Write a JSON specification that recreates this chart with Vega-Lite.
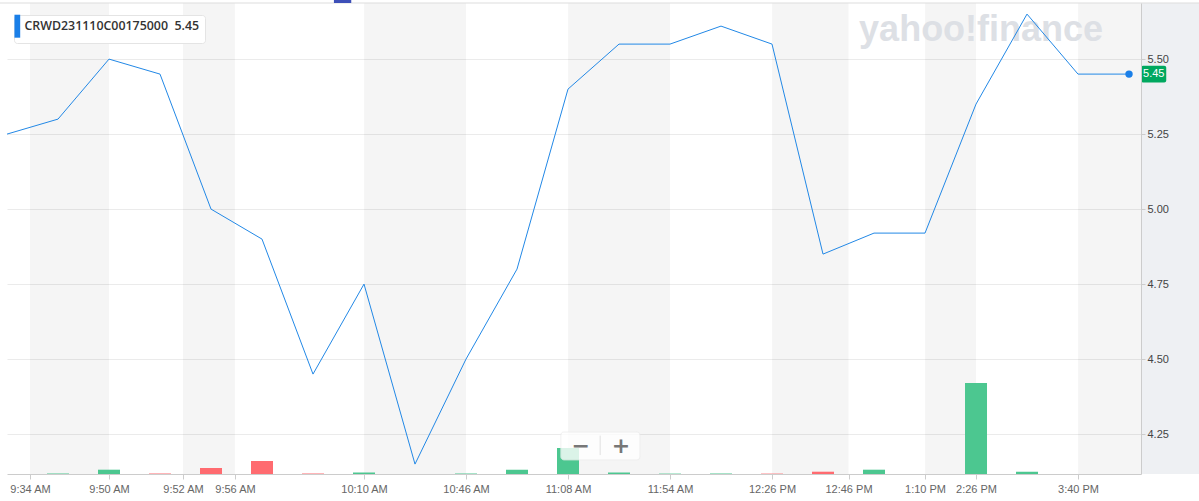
{
  "$schema": "https://vega.github.io/schema/vega-lite/v6.json",
  "autosize": {"type": "none"},
  "width": 1134,
  "height": 471,
  "padding": {"left": 7, "top": 3, "right": 58, "bottom": 27},
  "background": "#ffffff",
  "config": {
    "view": {"stroke": null},
    "scale": {"continuousPadding": 0},
    "axis": {"labelFont": "Liberation Sans", "labelFontSize": 11}
  },
  "datasets": {
    "prices": [
      {"idx": 0, "price": 5.25, "contract": "CRWD231110C00175000"},
      {"idx": 1, "price": 5.30, "contract": "CRWD231110C00175000"},
      {"idx": 2, "price": 5.50, "contract": "CRWD231110C00175000"},
      {"idx": 3, "price": 5.45, "contract": "CRWD231110C00175000"},
      {"idx": 4, "price": 5.00, "contract": "CRWD231110C00175000"},
      {"idx": 5, "price": 4.90, "contract": "CRWD231110C00175000"},
      {"idx": 6, "price": 4.45, "contract": "CRWD231110C00175000"},
      {"idx": 7, "price": 4.75, "contract": "CRWD231110C00175000"},
      {"idx": 8, "price": 4.15, "contract": "CRWD231110C00175000"},
      {"idx": 9, "price": 4.50, "contract": "CRWD231110C00175000"},
      {"idx": 10, "price": 4.80, "contract": "CRWD231110C00175000"},
      {"idx": 11, "price": 5.40, "contract": "CRWD231110C00175000"},
      {"idx": 12, "price": 5.55, "contract": "CRWD231110C00175000"},
      {"idx": 13, "price": 5.55, "contract": "CRWD231110C00175000"},
      {"idx": 14, "price": 5.61, "contract": "CRWD231110C00175000"},
      {"idx": 15, "price": 5.55, "contract": "CRWD231110C00175000"},
      {"idx": 16, "price": 4.85, "contract": "CRWD231110C00175000"},
      {"idx": 17, "price": 4.92, "contract": "CRWD231110C00175000"},
      {"idx": 18, "price": 4.92, "contract": "CRWD231110C00175000"},
      {"idx": 19, "price": 5.35, "contract": "CRWD231110C00175000"},
      {"idx": 20, "price": 5.65, "contract": "CRWD231110C00175000"},
      {"idx": 21, "price": 5.45, "contract": "CRWD231110C00175000"},
      {"idx": 22, "price": 5.45, "contract": "CRWD231110C00175000"}
    ],
    "volume": [
      {"idx": 1, "vol": 0.5, "dir": "up"},
      {"idx": 2, "vol": 4.3, "dir": "up"},
      {"idx": 3, "vol": 0.5, "dir": "down"},
      {"idx": 4, "vol": 6, "dir": "down"},
      {"idx": 5, "vol": 13, "dir": "down"},
      {"idx": 6, "vol": 0.5, "dir": "down"},
      {"idx": 7, "vol": 1.5, "dir": "up"},
      {"idx": 9, "vol": 0.5, "dir": "up"},
      {"idx": 10, "vol": 4.3, "dir": "up"},
      {"idx": 11, "vol": 26, "dir": "up"},
      {"idx": 12, "vol": 1.5, "dir": "up"},
      {"idx": 13, "vol": 0.4, "dir": "up"},
      {"idx": 14, "vol": 0.5, "dir": "up"},
      {"idx": 15, "vol": 0.4, "dir": "down"},
      {"idx": 16, "vol": 2.3, "dir": "down"},
      {"idx": 17, "vol": 4.3, "dir": "up"},
      {"idx": 19, "vol": 91, "dir": "up"},
      {"idx": 20, "vol": 2.3, "dir": "up"}
    ],
    "bands": [
      {"x0": 0.45, "x1": 2},
      {"x0": 3.45, "x1": 4.47},
      {"x0": 7, "x1": 9},
      {"x0": 11, "x1": 13},
      {"x0": 15, "x1": 16.5},
      {"x0": 18, "x1": 19},
      {"x0": 21, "x1": 22.235}
    ],
    "panel": [{"x0": 22.235, "x1": 23.4, "y0": 4.117, "y1": 5.687}],
    "watermark": [{"idx": 19.1, "price": 5.597, "text": "yahoo!finance"}],
    "badge": [{"x0": 22.235, "x1": 22.73, "xc": 22.485, "y0": 5.422, "y1": 5.478, "price": 5.45, "text": "5.45"}],
    "zoombox": [{"x0": 10.86, "x1": 12.41, "y0": 4.164, "y1": 4.257}],
    "zoomtext": [
      {"idx": 11.25, "price": 4.212, "text": "−"},
      {"idx": 12.04, "price": 4.212, "text": "+"}
    ],
    "zoomdiv": [{"idx": 11.63, "y0": 4.18, "y1": 4.245}],
    "topline": [{"x0": -0.14, "x1": 23.4, "price": 5.687}],
    "navmark": [{"x0": 6.41, "x1": 6.75, "y0": 5.687, "y1": 5.697}]
  },
  "resolve": {"scale": {"y": "independent", "color": "independent"}},
  "layer": [
    {
      "layer": [
        {
          "data": {"name": "bands"},
          "mark": {"type": "rect", "color": "#000000", "opacity": 0.04},
          "encoding": {
            "x": {"field": "x0", "type": "quantitative", "scale": {"domain": [0, 22.235], "nice": false, "zero": false, "padding": 0},
              "axis": {
                "values": [0.45, 2, 3.45, 4.47, 7, 9, 11, 13, 15, 16.5, 18, 19, 21],
                "labelExpr": "{'0.45':'9:34 AM','2':'9:50 AM','3.45':'9:52 AM','4.47':'9:56 AM','7':'10:10 AM','9':'10:46 AM','11':'11:08 AM','13':'11:54 AM','15':'12:26 PM','16.5':'12:46 PM','18':'1:10 PM','19':'2:26 PM','21':'3:40 PM'}[datum.value]",
                "title": null, "grid": false, "zindex": 1,
                "domainColor": "#cccccc", "tickColor": "#cccccc", "tickSize": 5,
                "labelColor": "#666666", "labelPadding": 4, "labelFlush": false, "labelOverlap": false
              }},
            "x2": {"field": "x1"}
          }
        },
        {
          "data": {"name": "panel"},
          "mark": {"type": "rect", "color": "#eef0f3", "clip": false},
          "encoding": {
            "x": {"field": "x0", "type": "quantitative", "scale": {"domain": [0, 22.235], "nice": false, "zero": false, "padding": 0}},
            "x2": {"field": "x1"},
            "y": {"field": "y0", "type": "quantitative", "scale": {"domain": [4.117, 5.687], "nice": false, "zero": false},
              "axis": {"orient": "left", "values": [4.25, 4.5, 4.75, 5, 5.25, 5.5], "grid": true, "gridColor": "#ebebeb",
                "labels": false, "ticks": false, "domain": false, "title": null, "zindex": 0}},
            "y2": {"field": "y1"}
          }
        },
        {
          "data": {"name": "watermark"},
          "mark": {"type": "text", "font": "Liberation Sans", "fontWeight": "bold", "fontSize": 36, "color": "#dde0e5", "baseline": "middle", "align": "center"},
          "encoding": {
            "x": {"field": "idx", "type": "quantitative", "scale": {"domain": [0, 22.235], "nice": false, "zero": false, "padding": 0}},
            "y": {"field": "price", "type": "quantitative", "scale": {"domain": [4.117, 5.687], "nice": false, "zero": false}},
            "text": {"field": "text"}
          }
        }
      ]
    },
    {
      "data": {"name": "volume"},
      "mark": {"type": "bar", "width": 22},
      "encoding": {
        "x": {"field": "idx", "type": "quantitative", "scale": {"domain": [0, 22.235], "nice": false, "zero": false, "padding": 0}},
        "y": {"field": "vol", "type": "quantitative", "scale": {"domain": [0, 471], "nice": false}, "axis": null},
        "color": {"field": "dir", "type": "nominal", "scale": {"domain": ["up", "down"], "range": ["#4cc790", "#ff6b70"]}, "legend": null}
      }
    },
    {
      "layer": [
        {
          "data": {"name": "prices"},
          "mark": {"type": "line", "strokeWidth": 1},
          "encoding": {
            "x": {"field": "idx", "type": "quantitative", "scale": {"domain": [0, 22.235], "nice": false, "zero": false, "padding": 0}},
            "y": {"field": "price", "type": "quantitative", "scale": {"domain": [4.117, 5.687], "nice": false, "zero": false},
              "axis": {
                "orient": "right", "values": [4.25, 4.5, 4.75, 5, 5.25, 5.5], "format": ".2f",
                "title": null, "grid": false, "zindex": 1,
                "domainColor": "#cccccc", "tickColor": "#cccccc", "tickSize": 4,
                "labelColor": "#444444", "labelPadding": 2
              }},
            "color": {"field": "contract", "type": "nominal", "scale": {"range": ["#2288e6"]},
              "legend": {
                "orient": "none", "legendX": 7, "legendY": 12, "title": null,
                "symbolType": "M-1.87,-2H-0.87V2H-1.87Z", "symbolSize": 132,
                "symbolFillColor": "#1a7fe8", "symbolStrokeWidth": 0,
                "labelExpr": "datum.label + '\u00a0\u00a05.45'",
                "labelFont": "Open Sans", "labelFontWeight": 600, "labelFontSize": 12.4, "labelColor": "#333333",
                "labelOffset": -7, "labelLimit": 400,
                "padding": 5, "fillColor": "#ffffff", "strokeColor": "#e4e4e4", "cornerRadius": 3
              }}
          }
        },
        {
          "data": {"name": "prices"},
          "transform": [{"filter": "datum.idx == 22"}],
          "mark": {"type": "point", "filled": true, "size": 55, "color": "#1a7fe8", "opacity": 1},
          "encoding": {
            "x": {"field": "idx", "type": "quantitative", "scale": {"domain": [0, 22.235], "nice": false, "zero": false, "padding": 0}},
            "y": {"field": "price", "type": "quantitative", "scale": {"domain": [4.117, 5.687], "nice": false, "zero": false}}
          }
        },
        {
          "data": {"name": "badge"},
          "mark": {"type": "rect", "color": "#00a85f", "cornerRadius": 2, "clip": false},
          "encoding": {
            "x": {"field": "x0", "type": "quantitative", "scale": {"domain": [0, 22.235], "nice": false, "zero": false, "padding": 0}},
            "x2": {"field": "x1"},
            "y": {"field": "y0", "type": "quantitative", "scale": {"domain": [4.117, 5.687], "nice": false, "zero": false}},
            "y2": {"field": "y1"}
          }
        },
        {
          "data": {"name": "badge"},
          "mark": {"type": "text", "color": "#ffffff", "font": "Liberation Sans", "fontSize": 11, "baseline": "middle", "align": "center", "clip": false},
          "encoding": {
            "x": {"field": "xc", "type": "quantitative", "scale": {"domain": [0, 22.235], "nice": false, "zero": false, "padding": 0}},
            "y": {"field": "price", "type": "quantitative", "scale": {"domain": [4.117, 5.687], "nice": false, "zero": false}},
            "text": {"field": "text"}
          }
        },
        {
          "data": {"name": "zoombox"},
          "mark": {"type": "rect", "color": "#ffffff", "opacity": 0.8, "cornerRadius": 3, "stroke": "#eeeeee", "strokeWidth": 1},
          "encoding": {
            "x": {"field": "x0", "type": "quantitative", "scale": {"domain": [0, 22.235], "nice": false, "zero": false, "padding": 0}},
            "x2": {"field": "x1"},
            "y": {"field": "y0", "type": "quantitative", "scale": {"domain": [4.117, 5.687], "nice": false, "zero": false}},
            "y2": {"field": "y1"}
          }
        },
        {
          "data": {"name": "zoomdiv"},
          "mark": {"type": "rule", "color": "#e0e0e0"},
          "encoding": {
            "x": {"field": "idx", "type": "quantitative", "scale": {"domain": [0, 22.235], "nice": false, "zero": false, "padding": 0}},
            "y": {"field": "y0", "type": "quantitative", "scale": {"domain": [4.117, 5.687], "nice": false, "zero": false}},
            "y2": {"field": "y1"}
          }
        },
        {
          "data": {"name": "zoomtext"},
          "mark": {"type": "text", "color": "#777777", "font": "DejaVu Sans", "fontWeight": "bold", "fontSize": 22, "baseline": "middle", "align": "center"},
          "encoding": {
            "x": {"field": "idx", "type": "quantitative", "scale": {"domain": [0, 22.235], "nice": false, "zero": false, "padding": 0}},
            "y": {"field": "price", "type": "quantitative", "scale": {"domain": [4.117, 5.687], "nice": false, "zero": false}},
            "text": {"field": "text"}
          }
        },
        {
          "data": {"name": "topline"},
          "mark": {"type": "rule", "color": "#dddddd", "clip": false},
          "encoding": {
            "x": {"field": "x0", "type": "quantitative", "scale": {"domain": [0, 22.235], "nice": false, "zero": false, "padding": 0}},
            "x2": {"field": "x1"},
            "y": {"field": "price", "type": "quantitative", "scale": {"domain": [4.117, 5.687], "nice": false, "zero": false}}
          }
        },
        {
          "data": {"name": "navmark"},
          "mark": {"type": "rect", "color": "#3d4fb8", "clip": false},
          "encoding": {
            "x": {"field": "x0", "type": "quantitative", "scale": {"domain": [0, 22.235], "nice": false, "zero": false, "padding": 0}},
            "x2": {"field": "x1"},
            "y": {"field": "y0", "type": "quantitative", "scale": {"domain": [4.117, 5.687], "nice": false, "zero": false}},
            "y2": {"field": "y1"}
          }
        }
      ]
    }
  ]
}
